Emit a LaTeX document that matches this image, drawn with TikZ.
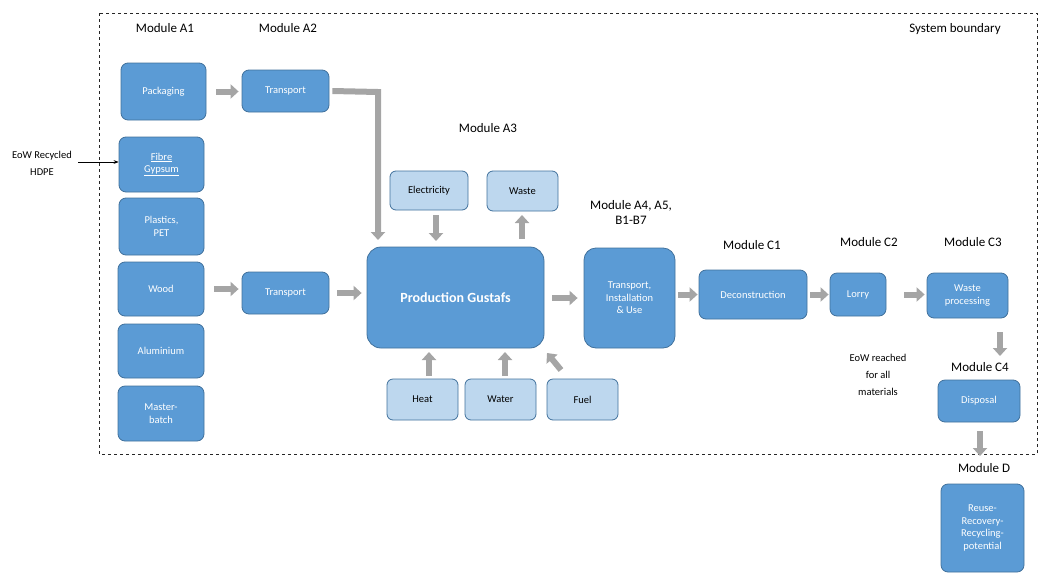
\documentclass[tikz,border=0pt]{standalone}
\usepackage{fontspec}
\setmainfont{Carlito}
\usetikzlibrary{arrows.meta}
\definecolor{bfill}{HTML}{5B9BD5}
\definecolor{bdraw}{HTML}{41719C}
\definecolor{lfill}{HTML}{BDD7EE}
\definecolor{garr}{HTML}{A5A5A5}
\tikzset{
 dbox/.style={draw=bdraw,fill=bfill,rounded corners=7pt,line width=0.8pt,text=white,align=center,font=\fontsize{10.5}{12.5}\selectfont,inner sep=0pt},
 lbox/.style={draw=bdraw,fill=lfill,rounded corners=6pt,line width=0.8pt,text=black,align=center,font=\fontsize{10.5}{12.5}\selectfont,inner sep=0pt},
 lab/.style={font=\fontsize{13}{15}\selectfont,align=center},
 garrow/.style={draw=garr,line width=6pt,-{Triangle[length=8pt,width=14pt]}},
}
\newcommand{\bx}[6]{\node[#1,minimum width=#4pt-#2pt,minimum height=#5pt-#3pt] (#6) at ({(#2+#4)/2},{(#3+#5)/2})}
\begin{document}
\begin{tikzpicture}[x=1pt,y=-1pt]
\useasboundingbox (0,0) rectangle (1049,581);
\draw[dashed,line width=0.6pt,black!85] (99,13) rectangle (1037,454);
\bx{dbox}{121}{63}{206}{120}{pack} {Packaging};
\bx{dbox}{242}{70}{329}{112}{tr1} {Transport};
\bx{dbox}{119}{137}{204}{192}{fib} {\underline{Fibre}\\\underline{Gypsum}};
\bx{dbox}{119}{198}{204}{255}{pla} {Plastics,\\PET};
\bx{dbox}{118}{262}{204}{316}{wood} {Wood};
\bx{dbox}{118}{324}{204}{378}{alu} {Aluminium};
\bx{dbox}{118}{386}{204}{441}{mas} {Master-\\batch};
\bx{dbox}{242}{272}{329}{314}{tr2} {Transport};
\bx{lbox}{390}{171}{468}{210}{ele} {Electricity};
\bx{lbox}{487}{171}{558}{211}{was} {Waste};
\node[dbox,rounded corners=14pt,minimum width=177pt,minimum height=101pt,font=\fontsize{14}{16}\selectfont\bfseries] (prod) at (455.5,297.5) {Production Gustafs};
\node[dbox,rounded corners=12pt,minimum width=91pt,minimum height=100pt] (tiu) at (629.5,298) {Transport,\\Installation\\\& Use};
\bx{dbox}{699}{270}{807}{319}{dec} {Deconstruction};
\bx{dbox}{830}{273}{886}{316}{lor} {Lorry};
\bx{dbox}{927}{273}{1008}{318}{wp} {Waste\\processing};
\bx{dbox}{938}{380}{1020}{422}{dis} {Disposal};
\bx{lbox}{387}{379}{458}{420}{heat} {Heat};
\bx{lbox}{465}{379}{536}{420}{wat} {Water};
\bx{lbox}{547}{379}{618}{420}{fuel} {Fuel};
\bx{dbox}{941}{484}{1024}{572}{reu} {Reuse-\\Recovery-\\Recycling-\\potential};
% labels
\node[lab] (la1) at (165,28) {Module A1};
\node[lab] (la2) at (288,28) {Module A2};
\node[lab] (sb) at (955,29) {System boundary};
\node[lab] (la3) at (488,128) {Module A3};
\node[lab] (la4) at (631,212) {Module A4, A5,\\B1-B7};
\node[lab] (lc1) at (752,245) {Module C1};
\node[lab] (lc2) at (869,242) {Module C2};
\node[lab] (lc3) at (973,242) {Module C3};
\node[lab] (lc4) at (980,367) {Module C4};
\node[lab] (ld) at (984,468) {Module D};
\node[align=center,font=\fontsize{10.5}{17}\selectfont] (eow) at (878,375) {EoW reached\\for all\\materials};
\node[align=center,font=\fontsize{10.5}{17}\selectfont] (hdpe) at (42,163) {EoW Recycled\\HDPE};
% arrows
\coordinate (hs) at (78,162);
\draw[-{Stealth[length=5pt]},line width=0.6pt] (hs) -- (fib.west|-hs);
\draw[garrow] ([xshift=10pt]pack.east) -- ([xshift=-3pt]tr1.west|-pack.east);
\draw[draw=garr,line width=6pt,-{Triangle[length=8pt,width=14pt]}] ([xshift=3pt]tr1.east) -- (378,92) -- (378,240);
\draw[garrow] ([xshift=10pt]wood.east) -- ([xshift=-3pt]tr2.west|-wood.east);
\draw[garrow] ([xshift=8pt]tr2.east) -- ([xshift=-5pt]prod.west|-tr2.east);
\draw[garrow] (436,215) -- (436,241);
\draw[garrow] (522,239) -- (522,215);
\draw[garrow] (429,376) -- (429,352);
\draw[garrow] (505,376) -- (505,352);
\draw[garrow] (561,370) -- (547,353);
\draw[garrow] ([xshift=8pt]prod.east|-tiu.west) -- ([xshift=-6pt]tiu.west);
\draw[garrow] ([xshift=3pt]tiu.east|-dec.west) -- ([xshift=-1pt]dec.west);
\draw[garrow] ([xshift=3pt]dec.east) -- ([xshift=-1pt]lor.west|-dec.east);
\draw[garrow] ([xshift=18pt]lor.east) -- ([xshift=-2pt]wp.west|-lor.east);
\draw[garrow] (1000,332) -- (1000,356);
\draw[garrow] (980,431) -- (980,456);
\end{tikzpicture}
\end{document}
